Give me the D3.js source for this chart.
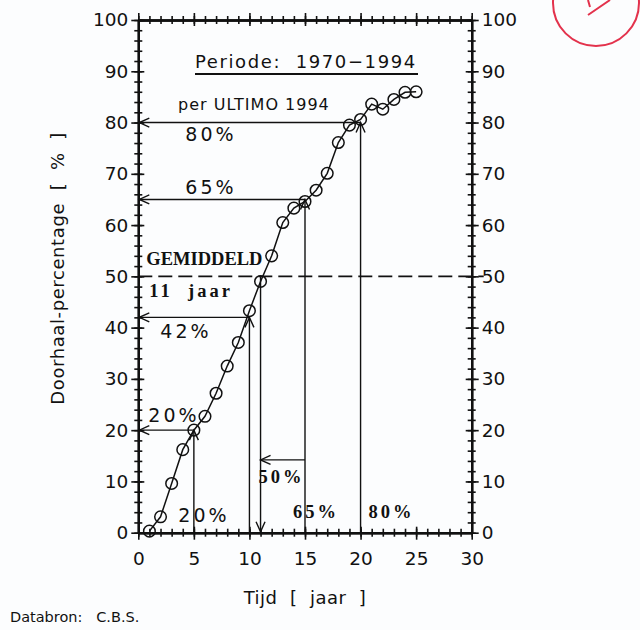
<!DOCTYPE html>
<html>
<head>
<meta charset="utf-8">
<script src="https://cdn.jsdelivr.net/npm/d3@7/dist/d3.min.js"></script>
<style>
  html, body { margin: 0; padding: 0; background: #fcfdfe; }
  svg { display: block; }
  text { fill: #111; }
</style>
</head>
<body>
<script>
// Cumulative share of cases closed ("doorhaal") per year since opening, 1970-1994
const years = d3.range(1, 26);
const pct = [0.3, 3.1, 9.6, 16.2, 20.0, 22.7, 27.2, 32.5, 37.1, 43.3, 49.0, 54.0, 60.5,
             63.3, 64.6, 66.8, 70.1, 76.1, 79.5, 80.6, 83.6, 82.6, 84.5, 85.9, 86.0];

// Read-off levels: percentage reached and year in which it is reached
const levelPct = [20, 42, 65, 80];
const levelYear = [5, 10, 15, 20];

// Average: 50% reached after 11 years
const avgPct = 50;
const avgYear = 11;

const xTicks = [0, 5, 10, 15, 20, 25, 30];
const yTicks = [0, 10, 20, 30, 40, 50, 60, 70, 80, 90, 100];

const W = 640, H = 630;
const svg = d3.select("body").append("svg").attr("width", W).attr("height", H);

const x = d3.scaleLinear().domain([0, 30]).range([138.3, 471.7]);
const y = d3.scaleLinear().domain([0, 100]).range([532.7, 20]);

const ink = "#111";
const sans = "'DejaVu Sans', Verdana, sans-serif";
const serif = "'Liberation Serif', 'Times New Roman', serif";

// ---- axes: ticks crossing the frame on all four sides ----
const xMinor = d3.range(0, 31, 1);
const yMinor = d3.range(0, 101, 2);

function styleAxis(g) {
  g.select(".domain").attr("stroke", ink).attr("stroke-width", 2);
  g.selectAll(".tick line").attr("stroke", ink).attr("stroke-width", 1.6);
  g.selectAll(".tick text").attr("font-family", sans).attr("font-size", 18.5).attr("fill", ink);
}

function axisPair(maker, scale, transform, minor, major, labels, pad) {
  const g1 = svg.append("g").attr("transform", transform)
    .call(maker(scale).tickValues(minor).tickSize(4).tickSizeOuter(0).tickFormat(""));
  styleAxis(g1);
  const g2 = svg.append("g").attr("transform", transform)
    .call(maker(scale).tickValues(minor).tickSize(-4).tickSizeOuter(0).tickFormat(""));
  styleAxis(g2);
  const g3 = svg.append("g").attr("transform", transform)
    .call(maker(scale).tickValues(major).tickSize(7).tickSizeOuter(0).tickPadding(pad)
      .tickFormat(labels ? d3.format("d") : ""));
  styleAxis(g3);
  const g4 = svg.append("g").attr("transform", transform)
    .call(maker(scale).tickValues(major).tickSize(-6).tickSizeOuter(0).tickFormat(""));
  styleAxis(g4);
}

axisPair(d3.axisBottom, x, `translate(0,${y(0)})`, xMinor, xTicks, true, 12);
axisPair(d3.axisTop, x, `translate(0,${y(100)})`, xMinor, xTicks, false, 0);
axisPair(d3.axisLeft, y, `translate(${x(0)},0)`, yMinor, yTicks, true, 3);
axisPair(d3.axisRight, y, `translate(${x(30)},0)`, yMinor, yTicks, true, 3);

// ---- arrowhead helper (open V) ----
function arrowHead(tx, ty, dir) {
  const L = 10, S = 4.5;
  let p;
  if (dir === "left") p = [[tx + L, ty - S], [tx, ty], [tx + L, ty + S]];
  if (dir === "up") p = [[tx - S, ty + L], [tx, ty], [tx + S, ty + L]];
  if (dir === "down") p = [[tx - S, ty - L], [tx, ty], [tx + S, ty - L]];
  svg.append("path").attr("d", d3.line()(p))
    .attr("fill", "none").attr("stroke", ink).attr("stroke-width", 1.4);
}

const guides = svg.append("g").attr("stroke", ink).attr("stroke-width", 1.4).attr("fill", "none");

// read-off lines: from the curve to the left axis and down to the time axis
levelPct.forEach((p, i) => {
  const yr = levelYear[i];
  guides.append("line").attr("x1", x(yr)).attr("x2", x(0)).attr("y1", y(p)).attr("y2", y(p));
  arrowHead(x(0) + 1, y(p), "left");
  guides.append("line").attr("x1", x(yr)).attr("x2", x(yr)).attr("y1", y(p)).attr("y2", y(0));
  arrowHead(x(yr), y(p), "up");
});

// average: dashed 50% line and the drop to 11 years
guides.append("line").attr("x1", x(0)).attr("x2", x(30) + 12)
  .attr("y1", y(avgPct)).attr("y2", y(avgPct))
  .attr("stroke-width", 1.6).attr("stroke-dasharray", "14,6");
guides.append("line").attr("x1", x(avgYear)).attr("x2", x(avgYear))
  .attr("y1", y(avgPct)).attr("y2", y(0));
arrowHead(x(avgYear), y(0) - 1, "down");

// small pointer from the 65% drop to the 50% drop
guides.append("line").attr("x1", x(levelYear[2])).attr("x2", x(avgYear))
  .attr("y1", y(14.2)).attr("y2", y(14.2));
arrowHead(x(avgYear), y(14.2), "left");

// ---- data curve with open circle markers ----
const pts = years.map((yr, i) => [x(yr), y(pct[i])]);
svg.append("path").attr("d", d3.line()(pts))
  .attr("fill", "none").attr("stroke", ink).attr("stroke-width", 1.5);
svg.append("g").selectAll("circle").data(pts).join("circle")
  .attr("cx", d => d[0]).attr("cy", d => d[1]).attr("r", 5.8)
  .attr("fill", "none").attr("stroke", ink).attr("stroke-width", 1.5);

// ---- annotation texts ----
function label(txt, px, py, opts = {}) {
  return svg.append("text").attr("x", px).attr("y", py)
    .attr("font-family", opts.font || sans)
    .attr("font-size", opts.size || 19)
    .attr("font-weight", opts.weight || "normal")
    .attr("letter-spacing", opts.ls || 0)
    .attr("text-anchor", opts.anchor || "start")
    .style("white-space", "pre")
    .text(txt);
}

label("80%", x(0) + 47, y(80) + 18, { ls: 3 });
label("65%", x(0) + 47, y(65) - 5, { ls: 3 });
label("42%", x(0) + 22, y(42) + 21, { ls: 3 });
label("20%", x(0) + 10, y(20) - 8, { ls: 3 });
label("20%", x(0) + 40, y(0) - 11, { ls: 3 });

label("GEMIDDELD", x(0) + 8, y(avgPct) - 11, { font: serif, weight: "bold", size: 18.5 });
label("11  jaar", x(0) + 11, y(avgPct) + 21, { font: serif, weight: "bold", size: 18.5, ls: 3 });
label("50%", x(avgYear) - 2, y(0) - 50, { font: serif, weight: "bold", size: 18.5, ls: 3 });
label("65%", x(levelYear[2]) - 12, y(0) - 15, { font: serif, weight: "bold", size: 18.5, ls: 3 });
label("80%", x(levelYear[3]) + 8, y(0) - 15, { font: serif, weight: "bold", size: 18.5, ls: 3 });

// title block
label("Periode:  1970\u22121994", 195, 68, { size: 18, ls: 1.6 });
svg.append("line").attr("x1", 195).attr("x2", 418).attr("y1", 74).attr("y2", 74)
  .attr("stroke", ink).attr("stroke-width", 2);
label("per ULTIMO 1994", 178, 110, { size: 16, ls: 1 });

// axis titles
svg.append("text").attr("transform", `translate(64,${y(50) - 8}) rotate(-90)`)
  .attr("text-anchor", "middle").attr("font-family", sans).attr("font-size", 18)
  .attr("letter-spacing", 0.6)
  .style("white-space", "pre")
  .text("Doorhaal-percentage  [  %  ]");
label("Tijd  [  jaar  ]", 305, 604, { size: 18, anchor: "middle", ls: 0.5 });
label("Databron:   C.B.S.", 10, 622, { size: 14.5 });

// red check mark in the corner
const red = "#e3324c";
svg.append("circle").attr("cx", 596).attr("cy", 3).attr("r", 43)
  .attr("fill", "none").attr("stroke", red).attr("stroke-width", 2);
svg.append("path").attr("d", "M588,0 L590,7 M588,15 L610,0")
  .attr("fill", "none").attr("stroke", red).attr("stroke-width", 2);
</script>
</body>
</html>
